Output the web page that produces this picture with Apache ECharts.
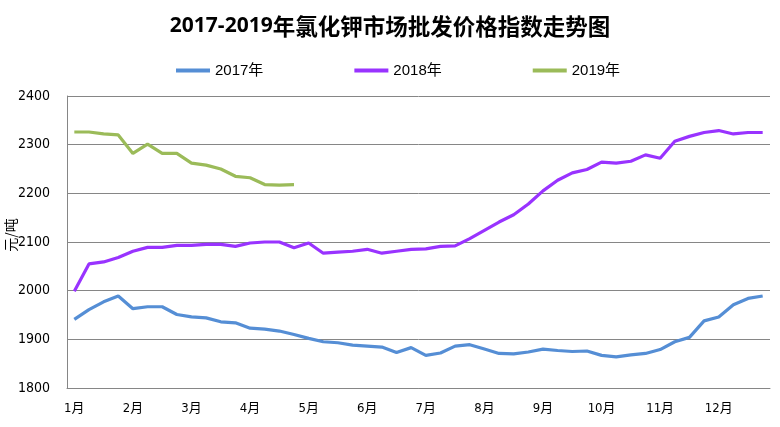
<!DOCTYPE html>
<html>
<head>
<meta charset="utf-8">
<script src="https://cdn.jsdelivr.net/npm/echarts@6/dist/echarts.min.js"></script>
<style>html,body{margin:0;padding:0;background:#fff}#c{width:780px;height:427px}</style>
</head>
<body>
<div id="c"></div>
<script>
const monthLabels = ['1月','2月','3月','4月','5月','6月','7月','8月','9月','10月','11月','12月'];
const weeksPerMonth = 4;
const yTicks = [1800, 1900, 2000, 2100, 2200, 2300, 2400];
const seriesNames = ['2017年', '2018年', '2019年'];
const titleYears = '2017-2019';
const titleRest = '年氯化钾市场批发价格指数走势图';
const yAxisTitle = '元/吨';
const data2017 = [1941,1961,1977,1989,1963,1967,1967,1951,1946,1944,1936,1934,1923,1921,1917,1910,1902,1895,1893,1888,1886,1884,1873,1883,1867,1872,1886,1889,1880,1871,1870,1874,1880,1877,1875,1876,1867,1864,1868,1871,1879,1895,1904,1938,1946,1971,1984,1989];
const data2018 = [1999,2055,2059,2068,2081,2089,2089,2093,2093,2095,2095,2091,2098,2100,2100,2088,2098,2077,2079,2081,2085,2077,2081,2085,2086,2091,2092,2107,2124,2141,2156,2178,2205,2227,2242,2249,2264,2262,2266,2279,2272,2307,2317,2325,2329,2322,2325,2325];
const data2019 = [2326,2326,2322,2320,2282,2301,2282,2282,2262,2258,2250,2235,2232,2218,2217,2218];

const categories = [];
monthLabels.forEach(m => { for (let w = 0; w < weeksPerMonth; w++) categories.push(w === 0 ? m : m + '#' + w); });

const colors = ['#558ED5', '#9933FF', '#9BBB59'];
const narrow = '"Liberation Sans Narrow", "DejaVu Sans Condensed", "Noto Sans CJK SC", sans-serif';
const cjk = '"Noto Sans CJK SC", sans-serif';

const chart = echarts.init(document.getElementById('c'), null, {renderer: 'canvas'});
chart.setOption({
  animation: false,
  backgroundColor: '#fff',
  color: colors,
  title: {
    text: '{b|' + titleYears + '}{n|' + titleRest + '}',
    left: 'center', top: 10,
    textStyle: {
      fontSize: 22, color: '#000',
      rich: {
        b: {fontFamily: '"Open Sans", "Noto Sans", sans-serif', fontWeight: 'bold', fontSize: 21, color: '#000'},
        n: {fontFamily: cjk, fontWeight: 'bold', fontSize: 22.5, color: '#000'}
      }
    }
  },
  legend: {
    top: 58, left: 171,
    data: seriesNames,
    icon: 'rect', itemWidth: 34, itemHeight: 4, itemGap: 91,
    textStyle: {fontFamily: '"Liberation Sans", "Noto Sans CJK SC", sans-serif', fontSize: 15, color: '#000'}
  },
  graphic: [{
    type: 'text', x: 11, y: 235, rotation: Math.PI / 2,
    style: {text: yAxisTitle, x: 0, y: 0, align: 'center', verticalAlign: 'middle',
      font: '14px "Noto Sans CJK SC", sans-serif', fill: '#000'}
  }],
  grid: {left: 67, right: 10, top: 96, bottom: 39, containLabel: false, outerBoundsMode: 'none'},
  xAxis: {
    type: 'category', data: categories, boundaryGap: true,
    axisLine: {lineStyle: {color: '#868686', width: 1}},
    axisTick: {show: false},
    axisLabel: {
      interval: weeksPerMonth - 1, margin: 14,
      fontFamily: narrow, fontSize: 13, color: '#000',
      formatter: v => v.indexOf('#') >= 0 ? '' : v
    },
    splitLine: {show: false}
  },
  yAxis: {
    type: 'value', min: yTicks[0], max: yTicks[yTicks.length - 1], interval: 100,
    axisLine: {show: true, lineStyle: {color: '#868686', width: 1}},
    axisTick: {show: false},
    axisLabel: {margin: 17, fontFamily: narrow, fontSize: 14, color: '#000', formatter: v => String(v)},
    splitLine: {lineStyle: {color: '#868686', width: 1}}
  },
  series: [
    {name: seriesNames[0], type: 'line', data: data2017, symbol: 'none', lineStyle: {width: 3.2, color: colors[0]}},
    {name: seriesNames[1], type: 'line', data: data2018, symbol: 'none', lineStyle: {width: 3.2, color: colors[1]}},
    {name: seriesNames[2], type: 'line', data: data2019, symbol: 'none', lineStyle: {width: 3.2, color: colors[2]}}
  ]
});
</script>
</body>
</html>
